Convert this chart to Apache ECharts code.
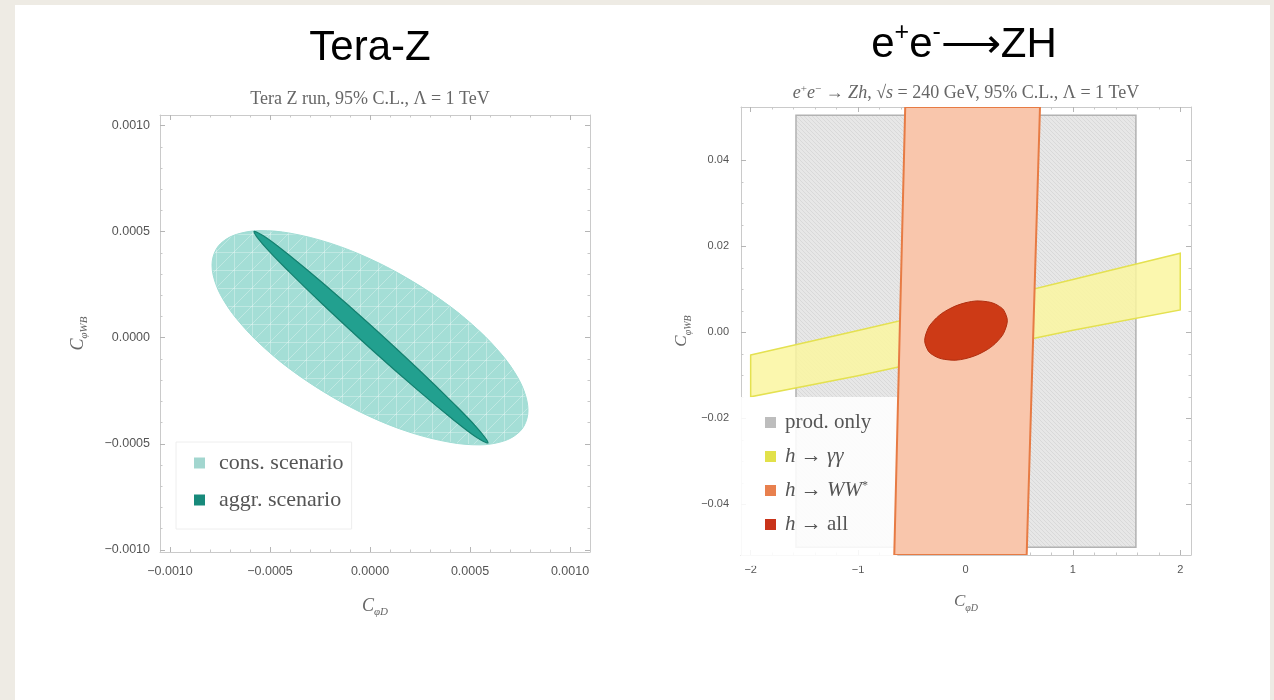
<!DOCTYPE html>
<html><head><meta charset="utf-8">
<script src="https://cdn.jsdelivr.net/npm/echarts@6/dist/echarts.min.js"></script>
<style>
html,body{margin:0;padding:0;background:#EEEBE4;width:1274px;height:700px;overflow:hidden}
#panel{position:absolute;left:15px;top:5px;width:1255px;height:695px;background:#fff}
#chart{position:absolute;left:0;top:0;width:1274px;height:700px}
</style></head><body><div id="panel"></div><div id="chart"></div>
<script>
// ---------- data ----------
const teraTicks = [-0.001, -0.0005, 0, 0.0005, 0.001];
const zhXTicks = [-2, -1, 0, 1, 2];
const zhYTicks = [-0.04, -0.02, 0, 0.02, 0.04];

// Tera-Z, conservative scenario boundary (C_phiD, C_phiWB)
const consScenario = [
  [-0.79e-3,0.342e-3],[-0.77e-3,0.416e-3],[-0.72e-3,0.464e-3],[-0.65e-3,0.492e-3],[-0.55e-3,0.505e-3],
  [-0.40e-3,0.493e-3],[-0.20e-3,0.446e-3],[0,0.372e-3],[0.20e-3,0.273e-3],[0.40e-3,0.148e-3],
  [0.55e-3,0.029e-3],[0.65e-3,-0.070e-3],[0.72e-3,-0.158e-3],[0.77e-3,-0.250e-3],[0.79e-3,-0.342e-3],
  [0.77e-3,-0.416e-3],[0.72e-3,-0.464e-3],[0.65e-3,-0.492e-3],[0.55e-3,-0.505e-3],[0.40e-3,-0.493e-3],
  [0.20e-3,-0.446e-3],[0,-0.372e-3],[-0.20e-3,-0.273e-3],[-0.40e-3,-0.148e-3],[-0.55e-3,-0.029e-3],
  [-0.65e-3,0.070e-3],[-0.72e-3,0.158e-3],[-0.77e-3,0.250e-3]
];
// Tera-Z, aggressive scenario boundary
const aggrScenario = [
  [-0.580e-3,0.500e-3],[-0.522e-3,0.474e-3],[-0.405e-3,0.390e-3],[-0.229e-3,0.252e-3],[0.005e-3,0.058e-3],
  [0.239e-3,-0.146e-3],[0.415e-3,-0.307e-3],[0.532e-3,-0.421e-3],[0.590e-3,-0.495e-3],[0.532e-3,-0.469e-3],
  [0.415e-3,-0.385e-3],[0.239e-3,-0.247e-3],[0.005e-3,-0.053e-3],[-0.229e-3,0.151e-3],[-0.405e-3,0.312e-3],
  [-0.522e-3,0.426e-3]
];
// e+e- -> Zh regions (C_phiD, C_phiWB)
const prodOnly = [[-1.578,-0.0500],[1.587,-0.0500],[1.587,0.0505],[-1.578,0.0505]];
const hGammaGamma = [[-2,-0.0053],[-1,0.0004],[0,0.0062],[1,0.0123],[2,0.0184],
                     [2,0.0052],[1,0.0005],[0,-0.0047],[-1,-0.0101],[-2,-0.0150]];
const hWW = [[-0.663,-0.0518],[-0.561,0.0524],[0.694,0.0524],[0.570,-0.0518]];
const hAll = [
  [-0.380,-0.0019],[-0.345,0.00105],[-0.295,0.0027],[-0.245,0.0039],[-0.195,0.0048],[-0.095,0.0061],
  [0.005,0.0069],[0.105,0.0073],[0.205,0.0071],[0.255,0.0068],[0.305,0.0062],[0.355,0.0052],[0.390,0.0027],
  [0.355,-0.00025],[0.305,-0.0019],[0.255,-0.0031],[0.205,-0.0040],[0.105,-0.0053],[0.005,-0.0061],
  [-0.095,-0.0065],[-0.195,-0.0063],[-0.245,-0.0060],[-0.295,-0.0054],[-0.345,-0.0044]
];

// ---------- helpers ----------
function subdivide(major, n) {
  const out = [];
  for (let i = 0; i < major.length - 1; i++) {
    const a = major[i], b = major[i + 1];
    for (let k = 1; k < n; k++) out.push(a + (b - a) * k / n);
  }
  return out;
}
const minus = s => s.replace('-', '\u2212');

function makePattern(size, draw) {
  const c = document.createElement('canvas');
  c.width = size; c.height = size;
  const g = c.getContext('2d');
  draw(g, size);
  return { image: c, repeat: 'repeat' };
}
const grayPattern = makePattern(4, (g, s) => {
  g.fillStyle = '#E7E7E7'; g.fillRect(0, 0, s, s);
  g.fillStyle = '#D9D9D9';
  for (let i = 0; i < s; i++) g.fillRect(i, i, 1, 1);
});
const tealPattern = makePattern(18, (g, s) => {
  g.fillStyle = '#A4DED6'; g.fillRect(0, 0, s, s);
  g.strokeStyle = 'rgba(255,255,255,0.3)'; g.lineWidth = 1;
  g.beginPath();
  g.moveTo(0.5, 0); g.lineTo(0.5, s);
  g.moveTo(0, 0.5); g.lineTo(s, 0.5);
  g.moveTo(0, s); g.lineTo(s, 0);
  g.stroke();
});

function nameStyle(size) {
  return {
    color: '#666', fontFamily: 'Liberation Serif',
    rich: {
      c: { fontSize: size, fontStyle: 'italic', fontFamily: 'Liberation Serif', color: '#666', lineHeight: size + 5 },
      s: { fontSize: Math.round(size * 0.6), fontStyle: 'italic', fontFamily: 'Liberation Serif', color: '#666', lineHeight: 12, verticalAlign: 'bottom' }
    }
  };
}

function frameAxes(dim, gridIndex, min, max, major, minor, fmt, labelSize, margin, name, nameGap, nameSize) {
  const common = { type: 'value', gridIndex, min, max, splitLine: { show: false }, axisPointer: { show: false } };
  const frame = { show: true, onZero: false, lineStyle: { color: '#CACACA', width: 1 } };
  const mainPos = dim === 'x' ? 'bottom' : 'left';
  const oppPos = dim === 'x' ? 'top' : 'right';
  const majorTick = { show: true, inside: true, length: 5, customValues: major, lineStyle: { color: '#B5B5B5' } };
  const minorTick = { show: true, inside: true, length: 2.5, customValues: minor, lineStyle: { color: '#C8C8C8' } };
  const noLine = { show: false, onZero: false };
  return [
    Object.assign({}, common, {
      position: mainPos, axisLine: frame, axisTick: majorTick,
      axisLabel: { show: true, customValues: major, formatter: fmt, margin, color: '#555', fontFamily: 'Liberation Sans', fontSize: labelSize },
      name, nameLocation: 'middle', nameGap, nameRotate: dim === 'x' ? 0 : 90, nameTextStyle: nameStyle(nameSize)
    }),
    Object.assign({}, common, { position: oppPos, axisLine: frame, axisTick: majorTick, axisLabel: { show: false } }),
    Object.assign({}, common, { position: mainPos, axisLine: noLine, axisTick: minorTick, axisLabel: { show: false } }),
    Object.assign({}, common, { position: oppPos, axisLine: noLine, axisTick: minorTick, axisLabel: { show: false } })
  ];
}

function poly(name, pts, axisIndex, style, legendColor, smooth, z) {
  return {
    type: 'custom', name, xAxisIndex: axisIndex, yAxisIndex: axisIndex, data: pts, clip: true, silent: true, z,
    itemStyle: { color: legendColor },
    renderItem(params, api) {
      if (params.dataIndex !== 0) return null;
      const points = pts.map(p => api.coord(p));
      return { type: 'polygon', shape: { points, smooth }, style };
    }
  };
}

const fmtTera = v => minus(Number(v).toFixed(4));
const fmtZhX = v => minus(String(Math.round(v)));
const fmtZhY = v => minus(Number(v).toFixed(2));

const xAxes = [].concat(
  frameAxes('x', 0, -0.00105, 0.00110, teraTicks, subdivide(teraTicks, 5), fmtTera, 12.5, 13, '{c|C}{s|\u03C6D}', 43, 18),
  frameAxes('x', 1, -2.09, 2.1, zhXTicks, subdivide(zhXTicks, 5), fmtZhX, 11, 9, '{c|C}{s|\u03C6D}', 36, 17)
);
const yAxes = [].concat(
  frameAxes('y', 0, -0.00101, 0.00105, teraTicks, subdivide(teraTicks, 5), fmtTera, 12.5, 10, '{c|C}{s|\u03C6WB}', 70, 18),
  frameAxes('y', 1, -0.0518, 0.0524, zhYTicks, subdivide(zhYTicks, 4), fmtZhY, 11, 12, '{c|C}{s|\u03C6WB}', 48, 17)
);

function legendText(size) {
  return { fontFamily: 'Liberation Serif', fontSize: size, color: '#555', lineHeight: size, padding: [0, 0, 0, 4],
    rich: {
      i: { fontStyle: 'italic', fontFamily: 'Liberation Serif', fontSize: size, color: '#555', lineHeight: size },
      u: { fontFamily: 'Liberation Serif', fontSize: 12, color: '#555', lineHeight: 12, verticalAlign: 'top' }
    } };
}
const zhLegendLabels = { 'prod. only': 'prod. only', 'h \u2192 \u03B3\u03B3': '{i|h} \u2192 {i|\u03B3\u03B3}',
  'h \u2192 WW*': '{i|h} \u2192 {i|WW}{u|*}', 'h \u2192 all': '{i|h} \u2192 all' };

const option = {
  animation: false,
  grid: [
    { left: 160, top: 115, width: 430, height: 437, containLabel: false },
    { left: 741, top: 107, width: 450, height: 448, containLabel: false }
  ],
  xAxis: xAxes,
  yAxis: yAxes,
  legend: [
    { data: [{ name: 'cons. scenario', itemStyle: { color: '#A2D6CF' } }, { name: 'aggr. scenario', itemStyle: { color: '#178A7B' } }],
      orient: 'vertical', left: 176, top: 442, padding: [10, 8, 18, 18], itemGap: 15, itemWidth: 11, itemHeight: 11,
      icon: 'rect', backgroundColor: 'rgba(255,255,255,0.96)', borderColor: '#EEEEEE', borderWidth: 1,
      textStyle: Object.assign(legendText(22), { padding: [0, 0, 0, 9] }), selectedMode: false },
    { data: [{ name: 'prod. only', itemStyle: { color: '#BDBDBD' } }, { name: 'h \u2192 \u03B3\u03B3', itemStyle: { color: '#E2E14A' } },
             { name: 'h \u2192 WW*', itemStyle: { color: '#E8804E' } }, { name: 'h \u2192 all', itemStyle: { color: '#C9331A' } }],
      orient: 'vertical', left: 741, top: 397, padding: [15, 26, 31, 24], itemGap: 13, itemWidth: 11, itemHeight: 11,
      icon: 'rect', backgroundColor: 'rgba(255,255,255,0.88)', borderWidth: 0,
      formatter: n => zhLegendLabels[n], textStyle: legendText(21), selectedMode: false }
  ],
  series: [
    poly('cons. scenario', consScenario, 0, { fill: tealPattern, stroke: '#A0DCD4', lineWidth: 1 }, '#A2D6CF', 0.35, 2),
    poly('aggr. scenario', aggrScenario, 0, { fill: '#22A08F', stroke: '#13806F', lineWidth: 1.2 }, '#178A7B', 0.35, 3),
    poly('prod. only', prodOnly, 4, { fill: grayPattern, stroke: '#B2B2B2', lineWidth: 1.5 }, '#BDBDBD', 0, 2),
    poly('h \u2192 \u03B3\u03B3', hGammaGamma, 4, { fill: 'rgba(250,246,160,0.85)', stroke: '#E4E150', lineWidth: 1.5 }, '#E2E14A', 0, 3),
    poly('h \u2192 WW*', hWW, 4, { fill: '#F9C6AC', stroke: '#E77B44', lineWidth: 2 }, '#E8804E', 0, 4),
    poly('h \u2192 all', hAll, 4, { fill: '#CD3A16', stroke: '#B02F10', lineWidth: 1 }, '#C9331A', 0.3, 5)
  ],
  graphic: [
    { type: 'text', x: 370, y: 48, z: 10, style: { text: 'Tera-Z', fontSize: 42, fontFamily: 'Liberation Sans', fill: '#000', align: 'center', verticalAlign: 'middle' } },
    { type: 'text', x: 964, y: 45, z: 10, style: {
        text: '{m|e}{p|+}{m|e}{p|-}{m|\u27F6ZH}', align: 'center', verticalAlign: 'middle',
        rich: { m: { fontSize: 42, fontFamily: 'Liberation Sans', fill: '#000', lineHeight: 48 },
                p: { fontSize: 25, fontFamily: 'Liberation Sans', fill: '#000', lineHeight: 25, verticalAlign: 'top' } } } },
    { type: 'text', x: 370, y: 99, z: 10, style: { text: 'Tera Z run, 95% C.L., \u039B = 1 TeV', fontSize: 18, fontFamily: 'Liberation Serif', fill: '#666', align: 'center', verticalAlign: 'middle' } },
    { type: 'text', x: 966, y: 93, z: 10, style: {
        text: '{i|e}{u|+}{i|e}{u|\u2212} \u2192 {i|Zh}, \u221A{i|s} = 240 GeV, 95% C.L., \u039B = 1 TeV',
        fontSize: 18, fontFamily: 'Liberation Serif', fill: '#666', align: 'center', verticalAlign: 'middle',
        rich: { i: { fontStyle: 'italic', fontSize: 18, fontFamily: 'Liberation Serif', fill: '#666' },
                u: { fontSize: 11, fontFamily: 'Liberation Serif', fill: '#666', verticalAlign: 'top', lineHeight: 11 } } } }
  ]
};

const chart = echarts.init(document.getElementById('chart'), null, { renderer: 'canvas' });
chart.setOption(option);
</script></body></html>
